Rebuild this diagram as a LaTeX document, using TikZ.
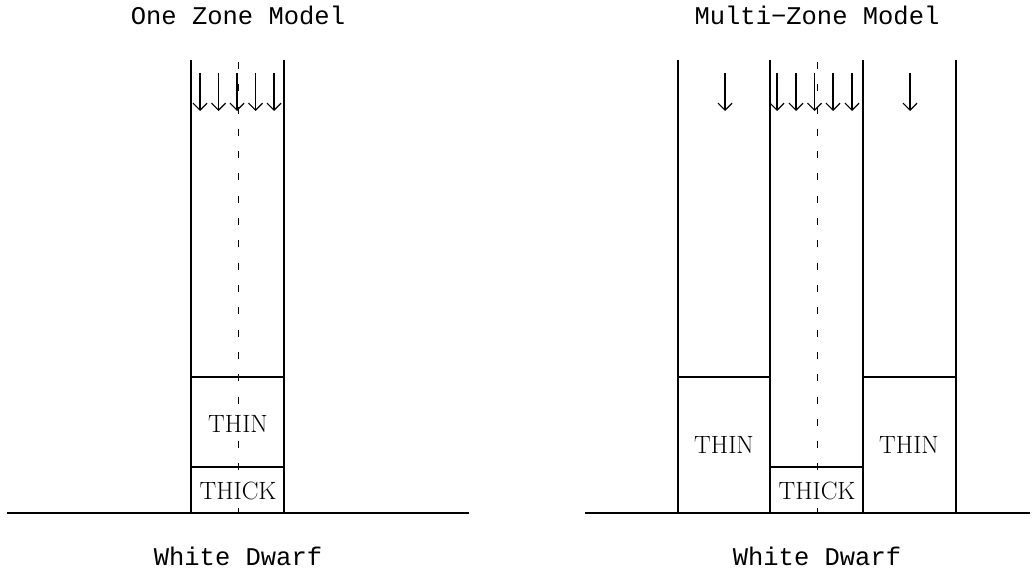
\documentclass[tikz,border=0pt]{standalone}
\usepackage{fontspec}
\newfontfamily\plotmono{Liberation Mono}
\usetikzlibrary{arrows.meta}
\tikzstyle{ground}=[line width=1.5pt]
\tikzstyle{wall}=[line width=1.2pt]
\tikzstyle{axis}=[line width=1pt,dash pattern=on 7pt off 15.3pt]
\tikzstyle{infall}=[line width=1.2pt,-{Straight Barb[length=7pt,width=14pt]}]
\tikzstyle{title}=[font=\plotmono\fontsize{25.5}{25.5}\selectfont,anchor=base,inner sep=0pt]
\tikzstyle{zone}=[font=\fontsize{25}{25}\selectfont,anchor=base,inner sep=1pt,fill=white]

\begin{document}
\begin{tikzpicture}[x=1pt,y=-1pt]
	\useasboundingbox (0,0) rectangle (1035,569);
	% one zone model
	\node[title] (one) at (238,25) {One Zone Model};
	\draw[ground] (7,513) -- (469,513);
	\draw[wall] (191,60) -- (191,513) (284,60) -- (284,513);
	\draw[wall] (191,377) -- (284,377) (191,467) -- (284,467);
	\draw[axis] (238,62) -- (238,513);
	\foreach \x in {200,218.5,237,255.5,274}
	  \draw[infall] (\x,73) -- (\x,111);
	\node[zone] (thin) at (238,432) {THIN};
	\node[zone] (thick) at (238,499) {THICK};
	\node[title] (wd) at (238,565) {White Dwarf};
	% multi-zone model
	\node[title] (multi) at (817,25) {Multi−Zone Model};
	\draw[ground] (585,513) -- (1030,513);
	\foreach \x in {678,770,863,956}
	  \draw[wall] (\x,60) -- (\x,513);
	\draw[wall] (678,377) -- (770,377) (863,377) -- (956,377) (770,467) -- (863,467);
	\draw[axis] (817,62) -- (817,513);
	\foreach \x in {725,777,796,814.5,833,852,910}
	  \draw[infall] (\x,73) -- (\x,111);
	\node[zone] (thinl) at (724,453) {THIN};
	\node[zone] (thinr) at (909,453) {THIN};
	\node[zone] (thickm) at (817,499) {THICK};
	\node[title] (wdm) at (817,565) {White Dwarf};
\end{tikzpicture}
\end{document}
